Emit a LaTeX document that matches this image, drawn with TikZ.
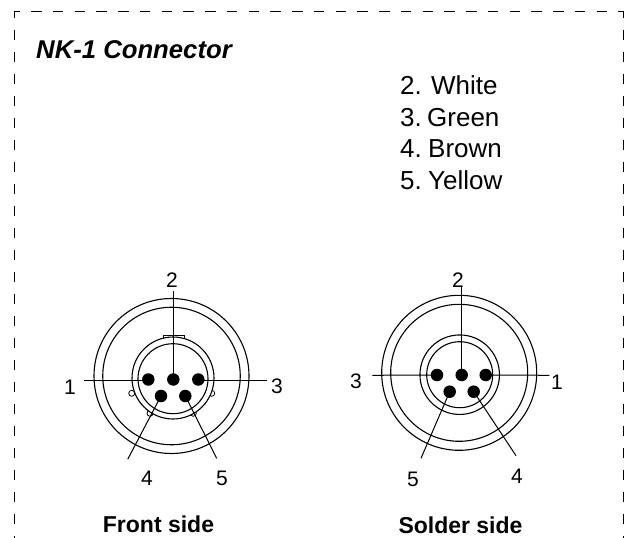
\documentclass[tikz,border=0pt]{standalone}
\usepackage{fontspec}
\setmainfont{Liberation Sans}
\tikzset{
  ring/.style={draw=black,line width=1.1pt,circle,minimum size=#1,inner sep=0pt,outer sep=0pt},
  pin/.style={circle,fill=black,minimum size=12.5pt,inner sep=0pt,outer sep=0pt},
  lead/.style={draw=black,line width=1pt},
  digit/.style={inner sep=0pt,font=\fontsize{21}{21}\selectfont},
  wire/.style={inner sep=0pt,anchor=base west,font=\fontsize{26}{26}\selectfont},
  caption/.style={inner sep=0pt,font=\fontsize{23}{23}\selectfont\bfseries},
  frameh/.style={draw=black,line width=0.9pt,dash pattern=on 10.5pt off 11.25pt},
  framev/.style={draw=black,line width=0.9pt,dash pattern=on 10pt off 12pt},
  framec/.style={draw=black,line width=0.9pt},
  nib/.style={circle,draw=black,fill=white,line width=0.8pt,minimum size=6pt,inner sep=0pt}
}
\begin{document}
\begin{tikzpicture}[x=1pt,y=-1pt]
\useasboundingbox (0,0) rectangle (633,538);
\fill[white] (0,0) rectangle (633,538);
% frame
\draw[framec] (14.5,17.5) -- (14.5,11.7) -- (20,11.7);
\draw[framec] (617.5,11.7) -- (623,11.7) -- (623,17.5);
\draw[frameh] (31,11.7) -- (607,11.7);
\draw[framev] (14.5,29.5) -- (14.5,538);
\draw[framev] (623,29.5) -- (623,538);
% texts
\node[inner sep=0pt,anchor=west,font=\fontsize{25.7}{26}\selectfont\bfseries\itshape] (title) at (36,50) {NK-1 Connector};
\node[wire] (w2d) at (400,94) {2.};
\node[wire] (w2) at (431,94) {White};
\node[wire] (w3d) at (400,126) {3.};
\node[wire] (w3) at (427,126) {Green};
\node[wire] (w4d) at (400,157.5) {4.};
\node[wire] (w4) at (428,157.5) {Brown};
\node[wire] (w5d) at (400,189) {5.};
\node[wire] (w5) at (428,189) {Yellow};
\node[caption] (cf) at (158.5,524) {Front side};
\node[caption] (cs) at (460.5,525) {Solder side};
% front side
\node[ring=155pt] (fo1) at (171.5,376) {};
\node[ring=137.5pt] (fo2) at (171.5,376) {};
\draw[line width=0.8pt] (163,339) -- (163,335.5) -- (184,335.5) -- (184,339);
\node[nib] (fn1) at (131.7,393.3) {};
\node[nib] (fn2) at (211.7,393.3) {};
\node[nib] (fn3) at (150,413.3) {};
\node[nib] (fn4) at (193.3,413.3) {};
\node[ring=82pt,fill=white] (fi1) at (173,378) {};
\node[ring=70pt] (fi2) at (173,378.7) {};
\node[pin] (fp1) at (148.3,379.5) {};
\node[pin] (fp2) at (173.3,379.5) {};
\node[pin] (fp3) at (198.3,379.5) {};
\node[pin] (fp4) at (161,396) {};
\node[pin] (fp5) at (185.3,396) {};
\node[digit] (fl2) at (172,280) {2};
\node[digit] (fl1) at (70,387) {1};
\node[digit] (fl3) at (277,386) {3};
\node[digit] (fl4) at (147,478) {4};
\node[digit] (fl5) at (222,478) {5};
\coordinate (fe2) at (174,291);
\coordinate (fe1) at (84,380.5);
\coordinate (fe3) at (267,380.5);
\coordinate (fe4) at (127.7,459.3);
\coordinate (fe5) at (216.7,458.3);
\draw[lead] (fp2.center) -- (fp2.center |- fe2);
\draw[lead] (fp1.center |- fe1) -- (fe1);
\draw[lead] (fp3.center |- fe3) -- (fe3);
\draw[lead] (fp4.center) -- (fe4);
\draw[lead] (fp5.center) -- (fe5);
% solder side
\node[ring=155pt] (so1) at (459.2,372.8) {};
\node[ring=137pt] (so2) at (459.2,372.8) {};
\node[ring=79.5pt] (si1) at (459.7,374.7) {};
\node[ring=66pt] (si2) at (459.7,374.7) {};
\node[pin] (sp3) at (437,375) {};
\node[pin] (sp2) at (461.7,375) {};
\node[pin] (sp1) at (485.7,375) {};
\node[pin] (sp5) at (449.7,391.7) {};
\node[pin] (sp4) at (473.7,391.7) {};
\node[digit] (sl2) at (458,280) {2};
\node[digit] (sl3) at (356,381) {3};
\node[digit] (sl1) at (557,382) {1};
\node[digit] (sl5) at (413,479) {5};
\node[digit] (sl4) at (517,476) {4};
\coordinate (se2) at (460.7,287);
\coordinate (se3) at (372.3,375.3);
\coordinate (se1) at (549.3,375.3);
\coordinate (se5) at (421,458.3);
\coordinate (se4) at (516,455.7);
\draw[lead] (sp2.center) -- (sp2.center |- se2);
\draw[lead] (sp3.center) -- (se3);
\draw[lead] (sp1.center) -- (se1);
\draw[lead] (sp5.center) -- (se5);
\draw[lead] (sp4.center) -- (se4);
\end{tikzpicture}
\end{document}
